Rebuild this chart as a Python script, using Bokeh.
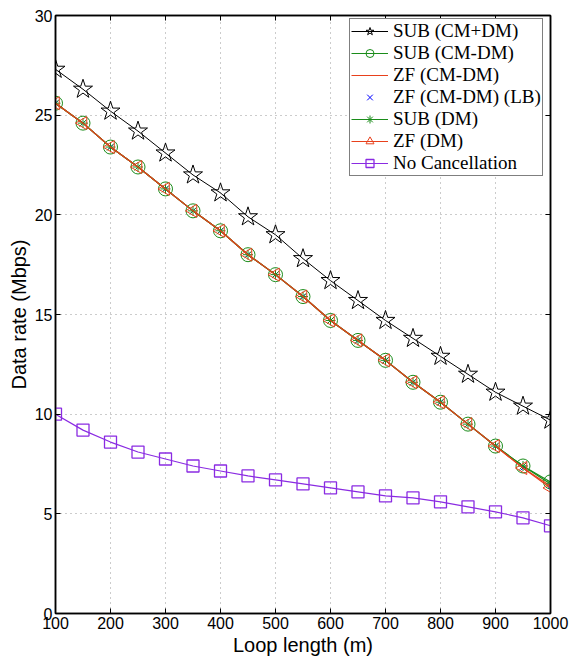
import numpy as np
from bokeh.plotting import figure
from bokeh.models import (Legend, LegendItem, LinearAxis, FixedTicker, Range1d,
                          CustomJSTickFormatter)
from bokeh.embed import file_html
from bokeh.resources import INLINE

loop_length = [100, 150, 200, 250, 300, 350, 400, 450, 500, 550,
               600, 650, 700, 750, 800, 850, 900, 950, 1000]
sub_cm_plus_dm = [27.3, 26.3, 25.2, 24.2, 23.1, 22.0, 21.1, 19.9, 19.0, 17.8,
                  16.7, 15.7, 14.7, 13.8, 12.9, 12.0, 11.1, 10.4, 9.7]
sub_cm_dm = [25.6, 24.6, 23.4, 22.4, 21.3, 20.2, 19.2, 18.0, 17.0, 15.9,
             14.7, 13.7, 12.7, 11.6, 10.6, 9.5, 8.4, 7.4, 6.6]
zf_cm_dm = [25.6, 24.6, 23.4, 22.4, 21.3, 20.2, 19.2, 18.0, 17.0, 15.9,
            14.7, 13.7, 12.7, 11.6, 10.6, 9.5, 8.4, 7.3, 6.4]
zf_cm_dm_lb = [25.6, 24.6, 23.4, 22.4, 21.3, 20.2, 19.2, 18.0, 17.0, 15.9,
               14.7, 13.7, 12.7, 11.6, 10.6, 9.5, 8.4, 7.3, 6.4]
sub_dm = [25.6, 24.6, 23.4, 22.4, 21.3, 20.2, 19.2, 18.0, 17.0, 15.9,
          14.7, 13.7, 12.7, 11.6, 10.6, 9.5, 8.4, 7.4, 6.5]
zf_dm = [25.6, 24.6, 23.4, 22.4, 21.3, 20.2, 19.2, 18.0, 17.0, 15.9,
         14.7, 13.7, 12.7, 11.6, 10.6, 9.5, 8.4, 7.3, 6.3]
no_cancel = [10.0, 9.2, 8.6, 8.1, 7.75, 7.4, 7.15, 6.9, 6.7, 6.5,
             6.3, 6.1, 5.9, 5.8, 5.6, 5.35, 5.1, 4.8, 4.4]

x_ticks = [100, 200, 300, 400, 500, 600, 700, 800, 900, 1000]
y_ticks = [0, 5, 10, 15, 20, 25, 30]

BLACK = "#000000"
GREEN = "#1a8c1a"
RED = "#e8401c"
BLUE = "#0000ff"
PURPLE = "#8a2be2"

SANS = "'Liberation Sans'"
SERIF = "'Liberation Serif'"

p = figure(width=571, height=668, output_backend="svg", toolbar_location=None,
           x_range=Range1d(100, 1000), y_range=Range1d(0, 30),
           min_border_left=55, min_border_right=21, min_border_top=15,
           min_border_bottom=55)

for ax in [p.xaxis[0], p.yaxis[0]]:
    ax.major_label_text_font = SANS
    ax.major_label_text_font_size = "16px"
    ax.major_label_text_color = "black"
    ax.axis_label_text_font = SANS
    ax.axis_label_text_font_size = "20px"
    ax.axis_label_text_font_style = "normal"
    ax.axis_label_text_color = "black"
    ax.major_tick_in = 5
    ax.major_tick_out = 0
    ax.minor_tick_line_color = None
    ax.axis_line_width = 1.5
    ax.major_label_standoff = 3
    ax.axis_label_standoff = 2

p.xaxis[0].ticker = FixedTicker(ticks=x_ticks)
p.yaxis[0].ticker = FixedTicker(ticks=y_ticks)
p.xaxis[0].axis_label = "Loop length (m)"
p.yaxis[0].axis_label = "Data rate (Mbps)"

for loc in ["right", "above"]:
    ax = LinearAxis(major_tick_in=5, major_tick_out=0,
                    minor_tick_line_color=None, axis_line_width=1.5,
                    major_label_standoff=0,
                    formatter=CustomJSTickFormatter(code="return ''"))
    ax.ticker = FixedTicker(ticks=y_ticks if loc == "right" else x_ticks)
    p.add_layout(ax, loc)

p.xgrid.ticker = FixedTicker(ticks=x_ticks)
p.ygrid.ticker = FixedTicker(ticks=y_ticks)
p.grid.grid_line_color = "#999999"
p.grid.grid_line_dash = "1 4"
p.grid.grid_line_width = 1
p.outline_line_color = "black"
p.outline_line_width = 1.5

items = []

l1 = p.line(loop_length, sub_cm_plus_dm, color=BLACK, line_width=1)
m1 = p.scatter(loop_length, sub_cm_plus_dm, marker="star", size=20,
               line_color=BLACK, fill_color=None, line_width=1)
items.append(LegendItem(label="SUB (CM+DM)", renderers=[l1, m1]))

l2 = p.line(loop_length, sub_cm_dm, color=GREEN, line_width=1.2)
m2 = p.scatter(loop_length, sub_cm_dm, marker="circle", size=14,
               line_color=GREEN, fill_color=None, line_width=1)
items.append(LegendItem(label="SUB (CM-DM)", renderers=[l2, m2]))

l3 = p.line(loop_length, zf_cm_dm, color=RED, line_width=1.2)
items.append(LegendItem(label="ZF (CM-DM)", renderers=[l3]))

m4 = p.scatter(loop_length, zf_cm_dm_lb, marker="x", size=7,
               line_color=BLUE, line_width=1)
items.append(LegendItem(label="ZF (CM-DM) (LB)", renderers=[m4]))

l5 = p.line(loop_length, sub_dm, color=GREEN, line_width=1.2)
m5 = p.scatter(loop_length, sub_dm, marker="asterisk", size=10,
               line_color=GREEN, line_width=1)
items.append(LegendItem(label="SUB (DM)", renderers=[l5, m5]))

l6 = p.line(loop_length, zf_dm, color=RED, line_width=1.2)
m6 = p.scatter(loop_length, zf_dm, marker="triangle", size=13, angle=np.pi / 2,
               line_color=RED, fill_color=None, line_width=1)
items.append(LegendItem(label="ZF (DM)", renderers=[l6, m6]))

l7 = p.line(loop_length, no_cancel, color=PURPLE, line_width=1.2)
m7 = p.scatter(loop_length, no_cancel, marker="square", size=12,
               line_color=PURPLE, fill_color=None, line_width=1.3)
items.append(LegendItem(label="No Cancellation", renderers=[l7, m7]))

legend = Legend(items=items, location=(294, 437),
                label_text_font=SERIF, label_text_font_size="19px",
                label_text_color="black",
                label_height=20, glyph_height=20, glyph_width=37,
                label_standoff=5, spacing=0, padding=1, margin=0,
                border_line_color="black", border_line_width=1.5,
                background_fill_color="white", background_fill_alpha=1)
p.add_layout(legend)

open("out.html", "w").write(file_html(p, INLINE))
